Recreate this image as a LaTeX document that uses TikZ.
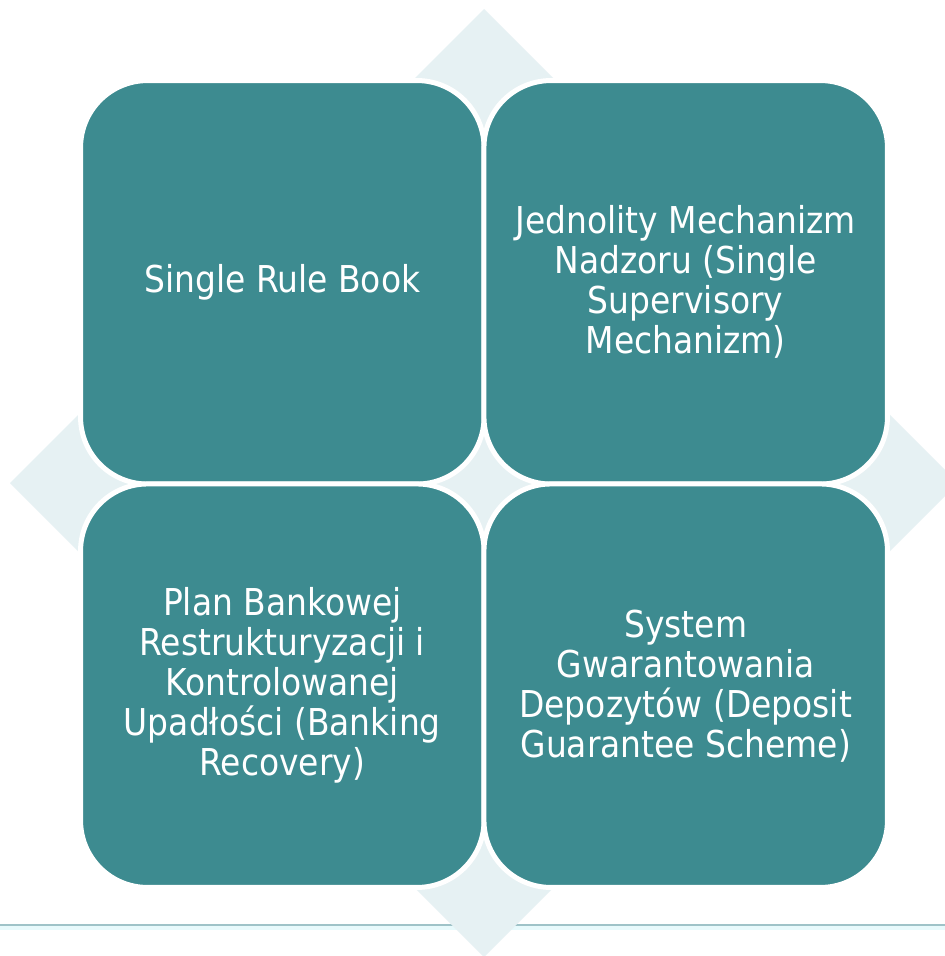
\documentclass[tikz,border=0pt]{standalone}
\usepackage{fontspec}
\setmainfont{DejaVu Sans}[FakeStretch=0.89]
\definecolor{teal1}{RGB}{61,139,144}
\definecolor{diam}{RGB}{230,241,243}
\definecolor{rule1}{RGB}{159,195,200}
\definecolor{rule2}{RGB}{232,250,252}
\begin{document}
\begin{tikzpicture}[x=1pt,y=-1pt,
  cell/.style={rectangle, rounded corners=67pt, fill=teal1, draw=white, line width=5pt,
    minimum width=403.5pt, minimum height=403.5pt, inner sep=0pt, outer sep=0pt,
    text=white, align=center, font=\fontsize{37}{40}\selectfont}]
\useasboundingbox (0,0) rectangle (945,956);
\fill[white] (0,0) rectangle (945,956);
% bottom rule
\draw[rule2, line width=4pt] (0,927.5) -- (945,927.5);
\draw[rule1, line width=2pt] (0,924.5) -- (945,924.5);
% background diamond
\fill[diam] (484,9) -- (958,483) -- (484,957) -- (10,483) -- cycle;
% cells
\node[cell] (tl) at (282.3,282.3) {Single Rule Book};
\node[cell] (tr) at (685.7,282.3) {Jednolity Mechanizm\\Nadzoru (Single\\Supervisory\\Mechanizm)};
\node[cell] (bl) at (282.3,685.7) {Plan Bankowej\\Restrukturyzacji i\\Kontrolowanej\\Upadłości (Banking\\Recovery)};
\node[cell] (br) at (685.7,685.7) {System\\Gwarantowania\\Depozytów (Deposit\\Guarantee Scheme)};
\end{tikzpicture}
\end{document}
